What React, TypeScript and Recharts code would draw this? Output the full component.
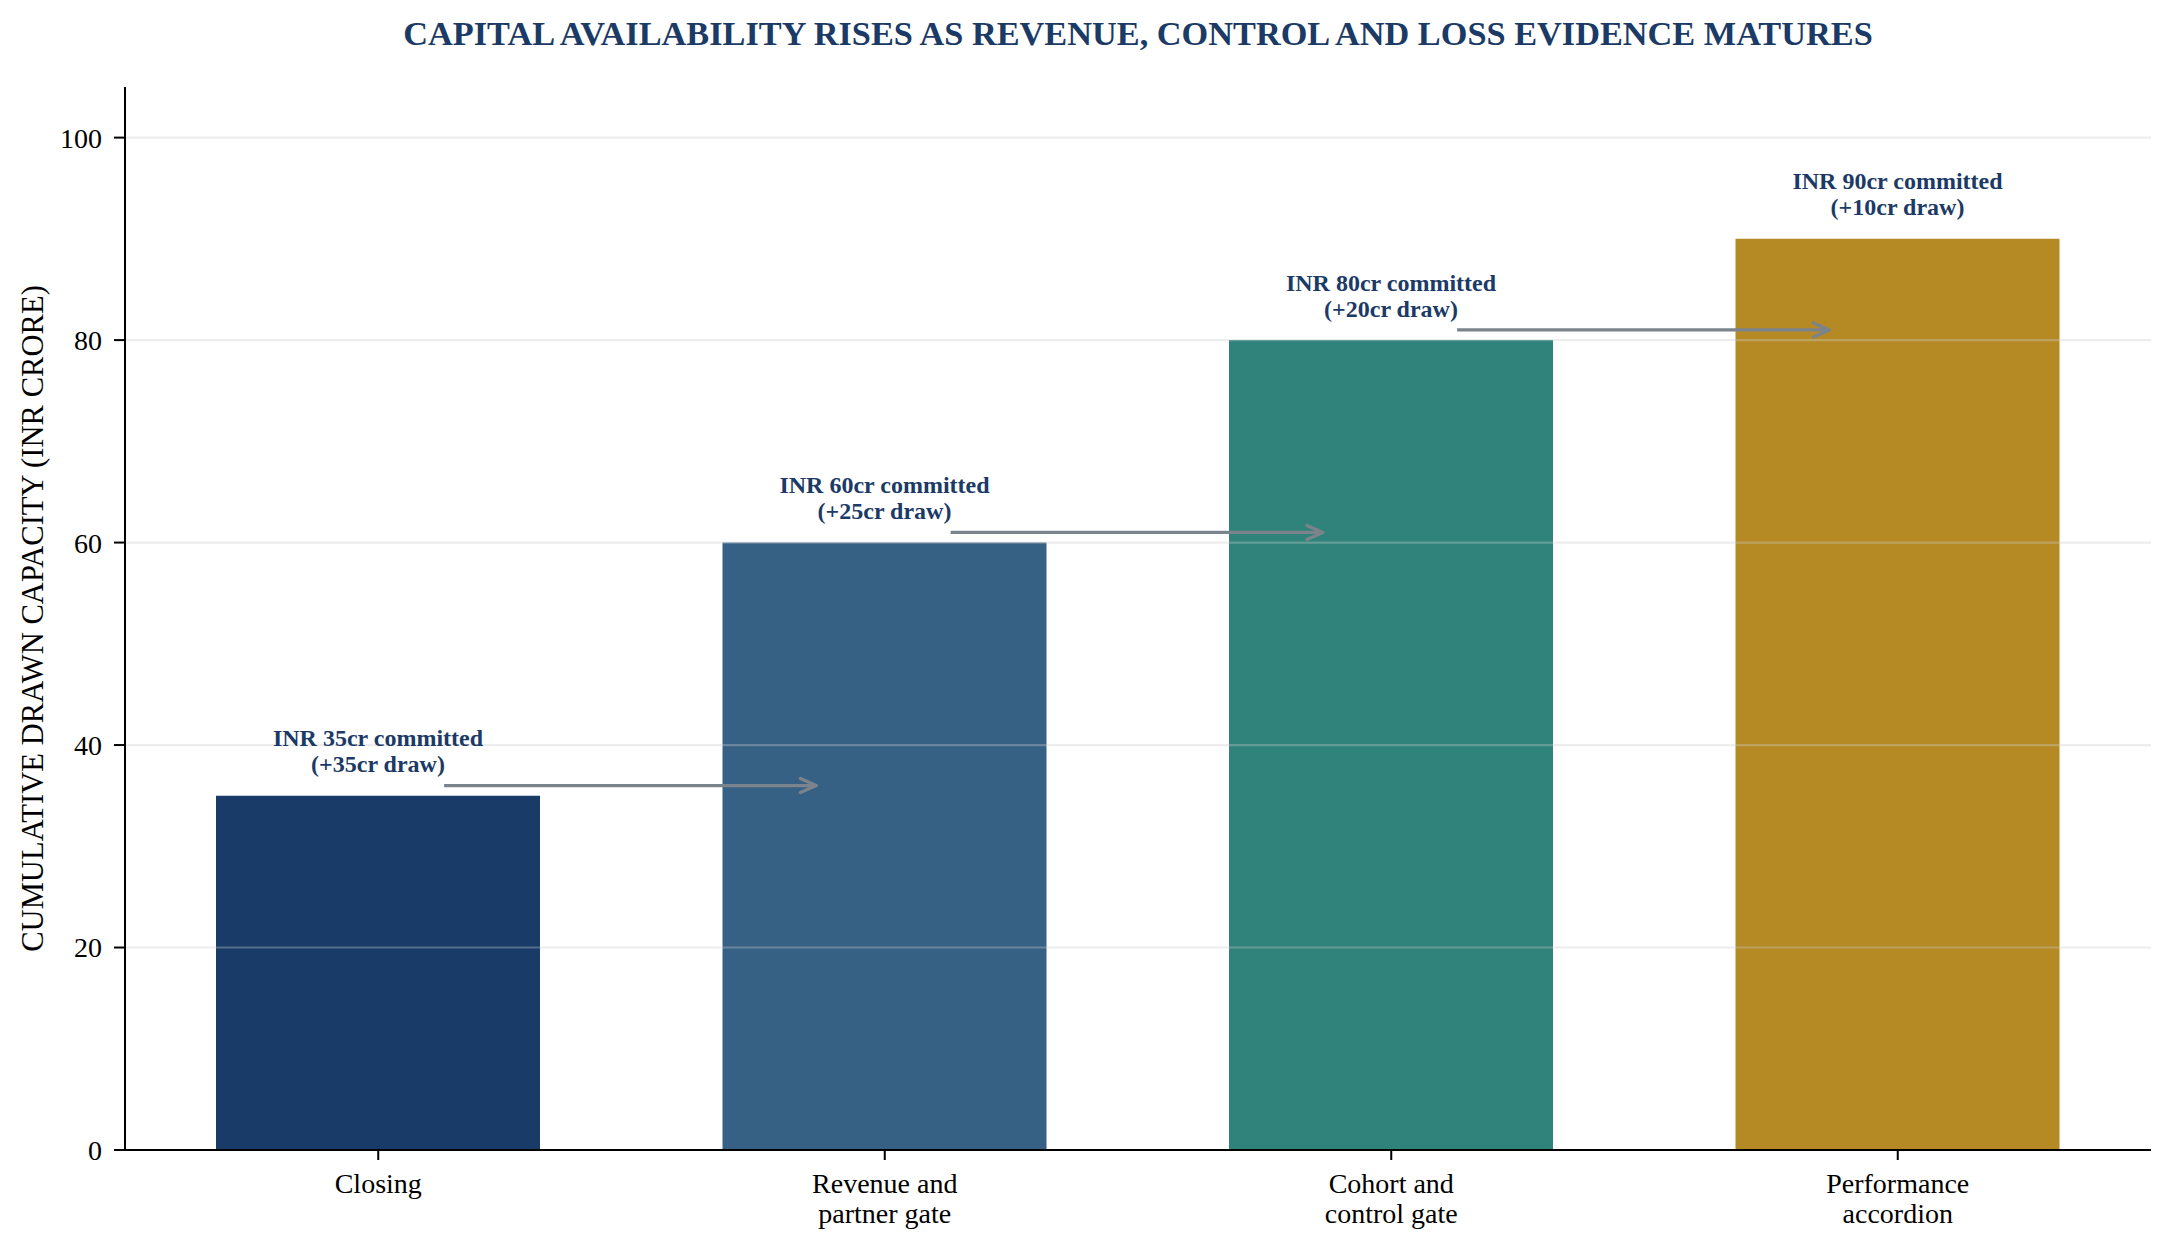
import { BarChart, Bar, XAxis, YAxis, ReferenceLine, LabelList, Cell } from 'recharts'

const STAGES = ['Closing', 'Revenue and\npartner gate', 'Cohort and\ncontrol gate', 'Performance\naccordion']
const COMMITTED = [35, 60, 80, 90]
const DRAW = [35, 25, 20, 10]
const COLORS = ['#183b67', '#366084', '#2f837b', '#b58a25']
const Y_TICKS = [0, 20, 40, 60, 80, 100]

const TITLE = 'CAPITAL AVAILABILITY RISES AS REVENUE, CONTROL AND LOSS EVIDENCE MATURES'
const Y_LABEL = 'CUMULATIVE DRAWN CAPACITY (INR CRORE)'

const W = 2172
const H = 1254
const FONT = '"Liberation Serif", "Times New Roman", serif'
const NAVY = '#1b3a66'
const ARROW = '#7b838c'
// arrow start / end, as offsets from the bar it leaves
const ARROW_FROM = 0.13
const ARROW_TO = 0.865

const rows = STAGES.map((name, i) => ({ pos: i, name, committed: COMMITTED[i], draw: DRAW[i] }))

function StageTick(props: any) {
  const { x, y, payload } = props
  const lines = String(STAGES[payload.value] ?? '').split('\n')
  return (
    <text x={x} y={y + 31} textAnchor="middle" fontFamily={FONT} fontSize={28} fill="#000">
      {lines.map((l, i) => (
        <tspan key={i} x={x} dy={i === 0 ? 0 : 30}>
          {l}
        </tspan>
      ))}
    </text>
  )
}

function BarNote(props: any) {
  const { x, y, width, index } = props
  const cx = x + width / 2
  const base = y - 23.5
  return (
    <text textAnchor="middle" fontFamily={FONT} fontWeight="bold" fontSize={24} fill={NAVY}>
      <tspan x={cx} y={base - 26}>{`INR ${COMMITTED[index]}cr committed`}</tspan>
      <tspan x={cx} y={base}>{`(+${DRAW[index]}cr draw)`}</tspan>
    </text>
  )
}

function Arrow(props: any) {
  const { x1, y1, x2, y2 } = props
  return (
    <g>
      <line x1={x1} y1={y1} x2={x2 - 2} y2={y2} stroke={ARROW} strokeWidth={3.3} />
      <polyline
        points={`${x2 - 16},${y2 - 7} ${x2},${y2} ${x2 - 16},${y2 + 7}`}
        fill="none"
        stroke={ARROW}
        strokeWidth={3.3}
        strokeLinecap="round"
        strokeLinejoin="round"
      />
    </g>
  )
}

function YTitle(props: any) {
  const vb = props.viewBox || {}
  const cy = vb.y + vb.height / 2
  return (
    <text x={43} y={cy} transform={`rotate(-90 43 ${cy})`} textAnchor="middle" fontFamily={FONT} fontSize={30.6} fill="#000">
      {Y_LABEL}
    </text>
  )
}

export default function App() {
  return (
    <div style={{ position: 'absolute', left: 0, top: 0, width: W, height: H, background: '#fff' }}>
      <BarChart width={W} height={H} data={rows} margin={{ top: 87, right: 21, bottom: 0, left: 0 }}>
        <XAxis
          dataKey="pos"
          type="number"
          domain={[-0.5, 3.5]}
          ticks={[0, 1, 2, 3]}
          allowDataOverflow
          height={104}
          tickSize={10}
          axisLine={{ stroke: '#000', strokeWidth: 2 }}
          tickLine={{ stroke: '#000', strokeWidth: 2 }}
          tick={(p: any) => <StageTick {...p} />}
        />
        <YAxis
          type="number"
          domain={[0, 105]}
          ticks={Y_TICKS}
          width={125}
          tickSize={11}
          tickMargin={12}
          axisLine={{ stroke: '#000', strokeWidth: 2 }}
          tickLine={{ stroke: '#000', strokeWidth: 2 }}
          tick={{ fill: '#000', fontSize: 28, fontFamily: FONT }}
          label={{ content: (p: any) => <YTitle {...p} /> }}
        />
        <Bar dataKey="committed" barSize={324} isAnimationActive={false}>
          {rows.map((_, i) => (
            <Cell key={`c-${i}`} fill={COLORS[i]} />
          ))}
          <LabelList dataKey="committed" content={(p: any) => <BarNote {...p} />} />
        </Bar>
        {Y_TICKS.filter((t) => t > 0).map((t) => (
          <ReferenceLine key={`g-${t}`} y={t} stroke="#cccccc" strokeOpacity={0.35} strokeWidth={2.2} />
        ))}
        {rows.slice(0, -1).map((r, i) => (
          <ReferenceLine
            key={`a-${i}`}
            segment={[
              { x: r.pos + ARROW_FROM, y: r.committed + 1 },
              { x: r.pos + ARROW_TO, y: r.committed + 1 },
            ]}
            shape={(p: any) => <Arrow {...p} />}
          />
        ))}
      </BarChart>
      <svg width={W} height={80} style={{ position: 'absolute', left: 0, top: 0, pointerEvents: 'none' }}>
        <text x={1138} y={45} textAnchor="middle" fontFamily={FONT} fontWeight="bold" fontSize={34.3} fill={NAVY}>
          {TITLE}
        </text>
      </svg>
    </div>
  )
}
